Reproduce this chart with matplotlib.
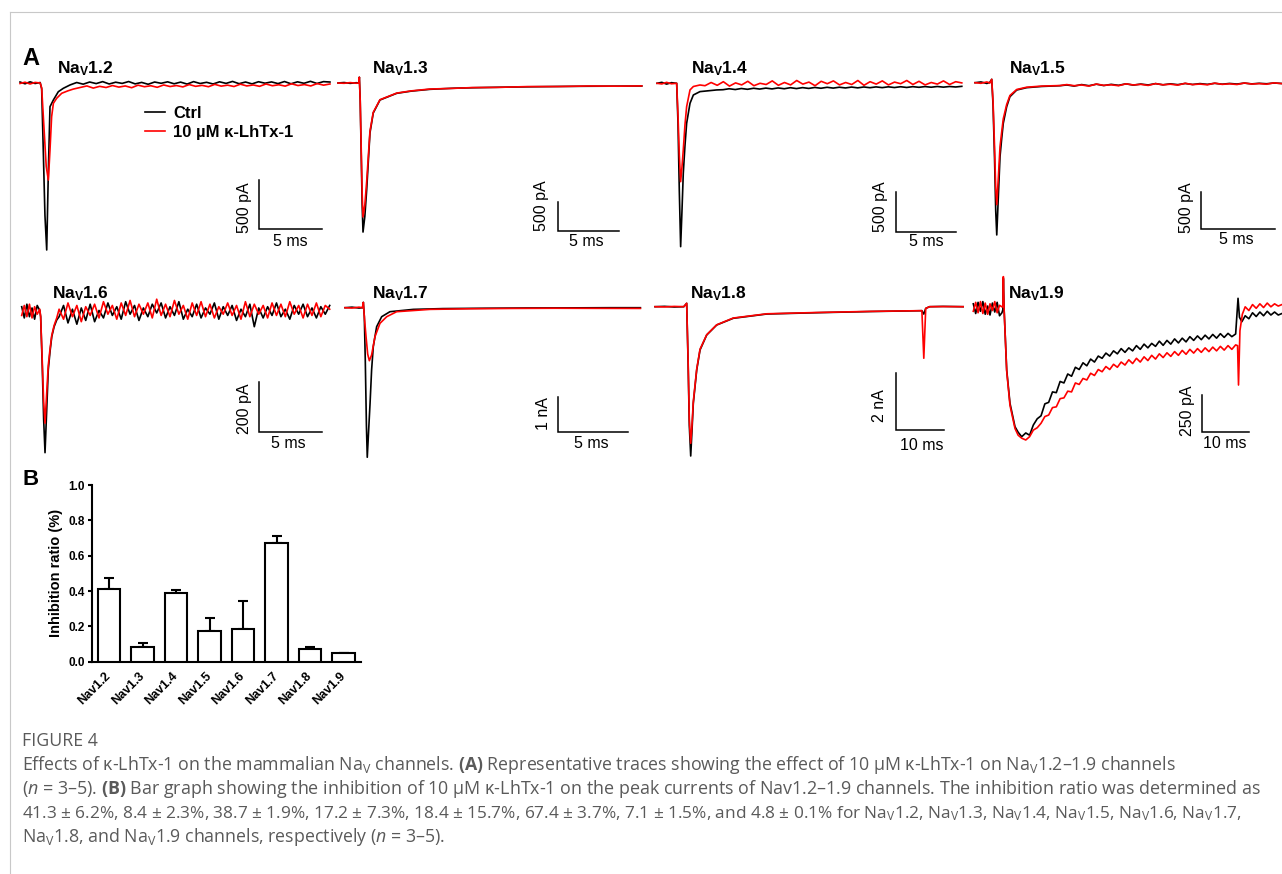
import numpy as np
import matplotlib
matplotlib.use('Agg')
import matplotlib.pyplot as plt
from matplotlib.lines import Line2D

plt.rcParams['font.family'] = ['Liberation Sans', 'DejaVu Sans']
plt.rcParams['mathtext.fontset'] = 'custom'
plt.rcParams['mathtext.rm'] = 'Open Sans'
plt.rcParams['mathtext.it'] = 'Open Sans:italic'
plt.rcParams['mathtext.bf'] = 'Open Sans:bold'
plt.rcParams['mathtext.sf'] = 'Liberation Sans:bold'

W, H = 1282, 874
RED = '#ff0000'

# ── trace data (time in ms, current in pA) ────────────────────────────
# a 3-tuple (t_start, t_end, values) is an evenly sampled noisy stretch

# Nav1.2
t12_c = [0, 0.4, 0.8, 1.2, 1.6, 1.72, 1.85, 1.98, 2.12, 2.25, 2.38, 2.65, 3.04, 3.44, 3.97]
i12_c = [10, -8, 12, -5, 5, -60, -700, -1350, -1704, -900, -242, -173, -89, -54, -20]
tail12_c = [5, -12, 10, -6, 14, -10, 8, -4, 15, -9, 6, -13, 10, -3, 12, -8, 9, -11, 14, -5,
            7, -10, 12, -4, 16, -7, 10, -9, 13, -2, 11, -6, 15, -8, 12, -3, 17, -5, 14, 10]
t12_t = [0, 0.4, 0.8, 1.2, 1.6, 1.72, 1.9, 2.08, 2.25, 2.38, 2.51, 2.65, 2.91, 3.31, 3.8, 4.23]
i12_t = [-5, 8, -10, 6, 0, -50, -450, -850, -990, -684, -344, -207, -156, -105, -80, -62]
tail12_t = [-45, -30, -52, -34, -46, -26, -42, -30, -48, -22, -38, -28, -44, -20, -36, -26,
            -40, -16, -34, -24, -38, -14, -32, -22, -36, -12, -30, -20, -34, -10, -28, -18,
            -32, -8, -26, -16, -30, -6, -22, -10]

# Nav1.3
t13 = [0, 0.5, 1.0, 1.5, 1.7, 1.75, 1.82, 1.9, 1.98, 2.05, 2.2, 2.35, 2.62, 2.89, 3.44,
       4.81, 6.0, 7.54, 9.5, 11.0, 13.0, 15.5, 18.0, 20.5, 23.0, 24.9]
i13_c = [0, 8, -6, 5, 0, 100, -300, -1200, -2100, -2570, -2300, -1845, -862, -517, -293,
         -178, -140, -109, -90, -82, -74, -66, -60, -56, -54, -52]
i13_t = [0, -5, 7, -4, 0, 100, -300, -1100, -1900, -2310, -2100, -1700, -830, -505, -288,
         -174, -136, -104, -92, -79, -76, -62, -61, -52, -55, -50]

# Nav1.4
t14_c = [0, 0.4, 0.8, 1.2, 1.64, 1.75, 1.86, 1.97, 2.08, 2.19, 2.33, 2.47, 2.75, 3.03, 3.58, 4.97]
i14_c = [0, 12, -10, 8, 0, -500, -1350, -2042, -1600, -1125, -780, -500, -250, -146, -104, -83]
tail14_c = [-80, -68, -78, -65, -75, -62, -72, -60, -70, -58, -68, -55, -66, -54, -64, -52,
            -62, -50, -60, -49, -58, -47, -57, -46, -55, -45, -54, -44, -53, -43, -52, -42,
            -50, -41, -49, -40, -48, -40, -46, -38]
t14_t = [0, 0.4, 0.8, 1.2, 1.64, 1.75, 1.86, 1.97, 2.08, 2.19, 2.33, 2.47, 2.75, 3.03, 3.58]
i14_t = [0, -8, 12, -6, 0, -400, -900, -1230, -1050, -834, -520, -292, -83, -40, -21]
tail14_t = [-30, 10, -25, 20, -35, 5, -20, 25, -30, 0, -15, 30, -25, 10, -20, 35, -10, 15,
            -30, 25, -5, 30, -20, 10, -15, 35, -25, 20, -10, 30, -20, 15, -5, 35, -15, 25,
            -20, 10, -10, 30, -15, 20, 5]

# Nav1.5
t15 = [0, 0.4, 0.8, 1.0, 1.13, 1.22, 1.32, 1.40, 1.47, 1.58, 1.69, 1.80, 1.91, 2.14, 2.36,
       2.82, 3.49, 4.5, 5.74]
i15_c = [0, 10, -10, 5, 45, -300, -1000, -1700, -2022, -1500, -983, -750, -540, -319, -186,
         -97, -66, -50, -40]
i15_t = [0, -8, 10, -5, 45, -250, -850, -1400, -1620, -1250, -850, -660, -480, -290, -170,
         -90, -60, -45, -38]
tail15_c = [-30, -45, -25, -40, -20, -38, -22, -35, -15, -32, -18, -30, -12, -28, -15, -26,
            -10, -24, -12, -22, -8, -20, -10, -18, -5, -16, -8, -14, -4, -10]
tail15_t = [-25, -40, -30, -45, -18, -35, -28, -40, -15, -30, -22, -36, -12, -28, -20, -32,
            -8, -25, -18, -28, -6, -22, -15, -24, -4, -18, -12, -20, -2, -12]

# Nav1.6
pre16_c = [20, -25, 30, -20, 15, -30, 25, 5]
pre16_t = [-15, 25, -20, 30, -25, 20, -10, 10]
t16 = [1.52, 1.65, 1.76, 1.87, 2.0, 2.13, 2.27, 2.41, 2.6, 2.81]
i16_c = [-20, -220, -430, -564, -400, -233, -160, -100, -60, -33]
i16_t = [-20, -200, -360, -446, -330, -215, -150, -95, -55, -25]
tail16_c = [-20, 25, -45, 10, -50, 15, -35, 30, -40, 5, -25, 35, -15, 20, -30, 40, -10, 25,
            -35, 15, -20, 30, -5, 35, -25, 20, -15, 40, -30, 10, -20, 30, -25, 15, -10, 35,
            -30, 20, -15, 25, -35, 10, -20, 30, -60, 15, -25, 20, -15, 35, -20, 10, -30, 25,
            -10, 30, -20, 15, -25, 20, -10, 25]
tail16_t = [10, -30, 35, -20, 25, -40, 20, -15, 30, -25, 40, -10, 25, -30, 35, -15, 45, -20,
            30, -10, 35, -25, 50, -15, 30, -20, 45, -10, 25, -30, 35, -15, 40, -20, 30, -25,
            20, -10, 35, -15, 25, -30, 40, -20, 30, -10, 25, -25, 35, -15, 30, -20, 40, -10,
            25, -25, 30, -15, 35, -20, 25, 10]

# Nav1.7
t17_c = [0, 0.5, 1.0, 1.25, 1.31, 1.38, 1.45, 1.53, 1.59, 1.68, 1.79, 1.90, 2.02, 2.26, 2.62,
         3.21, 4.88, 7.0, 10.0, 13.0, 16.0, 19.0, 21.1]
i17_c = [0, 15, -10, 0, 150, -250, -1500, -3300, -4190, -3500, -2680, -1745, -1092, -532, -252,
         -112, -47, -25, -15, -8, -5, 0, 0]
t17_t = [0, 0.5, 1.0, 1.25, 1.31, 1.38, 1.5, 1.62, 1.74, 1.90, 2.14, 2.5, 2.98, 3.69, 6.07,
         9.0, 12.0, 15.0, 18.0, 21.1]
i17_t = [0, -10, 15, 0, 150, -250, -800, -1300, -1485, -1325, -812, -437, -252, -112, -47,
         -30, -20, -15, -18, -20]

# Nav1.8
t18 = [0, 2, 4, 6, 6.6, 6.9, 7.15, 7.44, 7.7, 7.98, 8.69, 9.38, 10.77, 12.85, 16.3, 23.3,
       33.7, 45.0, 55.6, 56.0, 56.4, 57.2, 60.0, 64.2]
i18_c = [0, 12, -10, 0, 120, -2000, -4200, -5270, -4400, -3410, -2234, -1528, -999, -646, -409,
         -258, -212, -170, -141, -260, -60, 0, 10, 0]
i18_t = [0, -8, 10, 0, 120, -1900, -4000, -4822, -4200, -3350, -2200, -1500, -990, -640, -400,
         -250, -205, -165, -140, -1820, -60, 0, 5, 0]

# Nav1.9
pre19_c = [30, -35, 40, -20, 45, -40, 15, -45, 35, -25, 40, -50, -30]
pre19_t = [-20, 40, -30, 45, -35, 35, -40, 30, -15, 45, -30, 20, 10]
t19_c = [6.2, 6.3, 6.45, 7.0, 7.69, 8.74, 9.4, 10.15, 11.0, 11.8, 12.58]
i19_c = [-10, 200, 0, -413, -636, -793, -830, -860, -835, -850, -782]
t19_t = [6.2, 6.3, 6.45, 7.0, 7.69, 8.74, 9.4, 10.15, 11.0, 11.8, 12.58]
i19_t = [10, 212, 0, -420, -650, -805, -850, -870, -882, -860, -816]
rec19_c = [-740, -720, -640, -630, -560, -565, -490, -500, -440, -455, -395, -410, -365, -385,
           -340, -360, -320, -335, -300, -320, -285, -305, -270, -295, -265, -285, -250, -275,
           -240, -265, -235, -255, -220, -248, -215, -240, -205, -232, -200, -225, -190, -215,
           -185, -210, -180, -205, -175, -200, -170, -195, -168, -190, -172]
rec19_t = [-800, -770, -725, -715, -665, -660, -605, -600, -555, -560, -500, -510, -470, -480,
           -435, -450, -410, -425, -390, -410, -375, -395, -360, -380, -345, -370, -335, -360,
           -325, -350, -315, -340, -305, -330, -298, -322, -290, -315, -282, -308, -275, -300,
           -270, -295, -265, -290, -260, -285, -255, -280, -250, -275, -245]
t19s_c = [55.5, 55.8, 56.3]
i19s_c = [67, -60, -90]
t19s_t = [55.4, 55.6, 55.9, 56.4]
i19s_t = [-250, -514, -150, -40]
post19_c = [-50, -70, -30, -55, -25, -50, -20, -45, -25, -45, -35]
post19_t = [10, -15, 25, 0, 30, 5, 35, 10, 30, 15, 25]

# ── panel B data ──────────────────────────────────────────────────────
channels = ['Nav1.2', 'Nav1.3', 'Nav1.4', 'Nav1.5', 'Nav1.6', 'Nav1.7', 'Nav1.8', 'Nav1.9']
inhibition = [0.413, 0.084, 0.387, 0.172, 0.184, 0.674, 0.071, 0.048]
inhibition_err = [0.062, 0.023, 0.019, 0.073, 0.157, 0.037, 0.015, 0.001]


def build(*parts):
    t, y = [], []
    for p in parts:
        if len(p) == 3:
            t += list(np.linspace(p[0], p[1], len(p[2])))
            y += list(p[2])
        else:
            t += list(p[0])
            y += list(p[1])
    return np.array(t), np.array(y)


TRACES = {
    '1.2': (build((t12_c, i12_c), (4.5, 24.6, tail12_c)),
            build((t12_t, i12_t), (4.8, 24.6, tail12_t))),
    '1.3': (build((t13, i13_c)), build((t13, i13_t))),
    '1.4': (build((t14_c, i14_c), (5.5, 25.4, tail14_c)),
            build((t14_t, i14_t), (4.0, 25.4, tail14_t))),
    '1.5': (build((t15, i15_c), (6.2, 20.7, tail15_c)),
            build((t15, i15_t), (6.2, 20.7, tail15_t))),
    '1.6': (build((0, 1.45, pre16_c), (t16, i16_c), (3.0, 24.7, tail16_c)),
            build((0, 1.45, pre16_t), (t16, i16_t), (3.0, 24.7, tail16_t))),
    '1.7': (build((t17_c, i17_c)), build((t17_t, i17_t))),
    '1.8': (build((t18, i18_c)), build((t18, i18_t))),
    '1.9': (build((0, 6.0, pre19_c), (t19_c, i19_c), (13.4, 55.0, rec19_c),
                  (t19s_c, i19s_c), (57.0, 64.7, post19_c)),
            build((0, 6.0, pre19_t), (t19_t, i19_t), (13.4, 55.0, rec19_t),
                  (t19s_t, i19s_t), (57.0, 64.7, post19_t))),
}

# ── layout (pixels) ──────────────────────────────────────────────────
# x0/y0: pixel of t=0 and I=0; mspx/papx: pixels per ms / per pA
LAYOUT = {
    '1.2': dict(x0=20, y0=83, mspx=12.6, papx=0.098, cell=(12, 336, 55, 265),
                bar=(259, 229), size=(5, 500), lbl=('500 pA', '5 ms'),
                amp_xy=(245, 208), dur_xy=(290, 241.7), title=(57, 73)),
    '1.3': dict(x0=338, y0=83, mspx=12.2, papx=0.058, cell=(336, 652, 55, 265),
                bar=(558, 231), size=(5, 500), lbl=('500 pA', '5 ms'),
                amp_xy=(541.7, 205.7), dur_xy=(586.7, 241.7), title=(371.7, 73)),
    '1.4': dict(x0=657, y0=83.3, mspx=12, papx=0.08, cell=(652, 966, 55, 265),
                bar=(895.7, 231.7), size=(5, 500), lbl=('500 pA', '5 ms'),
                amp_xy=(880, 206.7), dur_xy=(926, 241.7), title=(690.7, 73)),
    '1.5': dict(x0=975, y0=82.7, mspx=14.8, papx=0.0753, cell=(966, 1282, 55, 265),
                bar=(1201, 229.3), size=(5, 500), lbl=('500 pA', '5 ms'),
                amp_xy=(1186, 207.3), dur_xy=(1236, 240), title=(1009, 73)),
    '1.6': dict(x0=21.7, y0=311.7, mspx=12.47, papx=0.25, cell=(12, 336, 268, 470),
                bar=(259.3, 431.7), size=(5, 200), lbl=('200 pA', '5 ms'),
                amp_xy=(245, 408.3), dur_xy=(288.3, 443.3), title=(51.7, 298)),
    '1.7': dict(x0=345, y0=307.7, mspx=14, papx=0.0357, cell=(336, 652, 268, 470),
                bar=(557.7, 432.3), size=(5, 1000), lbl=('1 nA', '5 ms'),
                amp_xy=(543.3, 414), dur_xy=(591.7, 443.3), title=(371.7, 298)),
    '1.8': dict(x0=655, y0=306.7, mspx=4.8, papx=0.02833, cell=(652, 966, 268, 470),
                bar=(896, 430), size=(10, 2000), lbl=('2 nA', '10 ms'),
                amp_xy=(880, 405.7), dur_xy=(921.7, 445), title=(690, 298)),
    '1.9': dict(x0=973.3, y0=308.3, mspx=4.77, papx=0.1493, cell=(966, 1282, 268, 470),
                bar=(1201.7, 432.3), size=(10, 250), lbl=('250 pA', '10 ms'),
                amp_xy=(1187.3, 410.7), dur_xy=(1225, 443.3), title=(1007.7, 298)),
}


def fx(x):
    return x / W


def fy(y):
    return 1 - y / H


fig = plt.figure(figsize=(W / 100, H / 100), dpi=100)

# frame lines of the page
fig.add_artist(Line2D([fx(10), 1], [fy(12), fy(12)], color='#c8c8c8', lw=0.8))
fig.add_artist(Line2D([fx(10), fx(10)], [fy(12), 0], color='#c8c8c8', lw=0.8))

# ── panel A: traces ──────────────────────────────────────────────────
for name, L in LAYOUT.items():
    cx0, cx1, cy0, cy1 = L['cell']
    ax = fig.add_axes([fx(cx0), fy(cy1), (cx1 - cx0) / W, (cy1 - cy0) / H])
    ax.set_xlim((cx0 - L['x0']) / L['mspx'], (cx1 - L['x0']) / L['mspx'])
    ax.set_ylim((L['y0'] - cy1) / L['papx'], (L['y0'] - cy0) / L['papx'])
    ax.axis('off')
    (tc, ic), (tt, it) = TRACES[name]
    lc, = ax.plot(tc, ic, color='black', lw=1.2, clip_on=False)
    lt, = ax.plot(tt, it, color=RED, lw=1.2, clip_on=False)

    # scale bar
    sb_t = (L['bar'][0] - L['x0']) / L['mspx']
    sb_i = (L['y0'] - L['bar'][1]) / L['papx']
    dur, amp = L['size']
    ax.plot([sb_t, sb_t, sb_t + dur], [sb_i + amp, sb_i, sb_i], color='black',
            lw=1.1, solid_joinstyle='miter', clip_on=False)
    fig.text(fx(L['amp_xy'][0]), fy(L['amp_xy'][1]), L['lbl'][0], rotation=90,
             ha='center', va='center', fontsize=11.5)
    fig.text(fx(L['dur_xy'][0]), fy(L['dur_xy'][1]), L['lbl'][1],
             ha='center', va='center', fontsize=11.5)

    fig.text(fx(L['title'][0]), fy(L['title'][1]), r'Na$_\mathsf{V}$' + name,
             fontsize=12.5, fontweight='bold', va='baseline')

    if name == '1.2':
        ax.legend([lc, lt], ['Ctrl', '10 µM κ-LhTx-1'], loc='upper left',
                  bbox_to_anchor=(fx(145), fy(106)), bbox_transform=fig.transFigure,
                  frameon=False, handlelength=1.2, handletextpad=0.5,
                  labelspacing=0.25, borderpad=0, borderaxespad=0,
                  prop={'weight': 'bold', 'size': 12})

fig.text(fx(22), fy(65), 'A', fontsize=17, fontweight='bold', va='baseline')
fig.text(fx(22), fy(485), 'B', fontsize=16, fontweight='bold', va='baseline')

# ── panel B: bar graph ───────────────────────────────────────────────
axb = fig.add_axes([fx(91.7), fy(661.7), (361 - 91.7) / W, (661.7 - 485) / H])
xpos = np.arange(len(channels))
axb.bar(xpos, inhibition, width=0.67, color='white', edgecolor='black', lw=1.5, zorder=3)
axb.errorbar(xpos, inhibition, yerr=[np.zeros(len(channels)), inhibition_err],
             fmt='none', ecolor='black', elinewidth=1.5, capsize=3.6, capthick=1.5, zorder=2)
axb.set_xlim(-0.52, 7.52)
axb.set_ylim(0, 1.0)
axb.set_yticks([0.0, 0.2, 0.4, 0.6, 0.8, 1.0])
axb.set_yticklabels(['0.0', '0.2', '0.4', '0.6', '0.8', '1.0'], fontsize=8.5, fontweight='bold')
axb.set_xticks(xpos)
axb.set_xticklabels(channels, rotation=45, ha='right', va='center', rotation_mode='anchor',
                    fontsize=9, fontweight='bold')
axb.tick_params(axis='x', length=0, pad=9)
axb.tick_params(axis='y', length=3, width=1.5, pad=2)
for s in ['top', 'right']:
    axb.spines[s].set_visible(False)
for s in ['left', 'bottom']:
    axb.spines[s].set_linewidth(1.5)
axb.set_ylabel('Inhibition ratio (%)', fontsize=10.5, fontweight='bold', labelpad=4)

# ── caption ──────────────────────────────────────────────────────────
cap_kw = dict(family=['Open Sans', 'DejaVu Sans'], color='#5a5a5a', va='baseline')
NAV = r'Na$_\mathrm{V}$'
caption = [
    'Effects of κ-LhTx-1 on the mammalian ' + NAV + r' channels. $\mathbf{(A)}$ Representative '
    'traces showing the effect of 10 μM κ-LhTx-1 on ' + NAV + '1.2–1.9 channels',
    r'($n$ = 3–5). $\mathbf{(B)}$ Bar graph showing the inhibition of 10 μM κ-LhTx-1 on the '
    'peak currents of Nav1.2–1.9 channels. The inhibition ratio was determined as',
    '41.3 ± 6.2%, 8.4 ± 2.3%, 38.7 ± 1.9%, 17.2 ± 7.3%, 18.4 ± 15.7%, 67.4 ± 3.7%, 7.1 ± 1.5%, '
    'and 4.8 ± 0.1% for ' + ', '.join(NAV + '1.%d' % k for k in range(2, 8)) + ',',
    NAV + '1.8, and ' + NAV + r'1.9 channels, respectively ($n$ = 3–5).',
]
caption_size = [12.8, 12.9, 12.4, 12.8]
fig.text(fx(22), fy(746), 'FIGURE 4', fontsize=12.8, **cap_kw)
for k, line in enumerate(caption):
    fig.text(fx(22), fy(770 + 24 * k), line, fontsize=caption_size[k], **cap_kw)

fig.savefig('out.png', dpi=100)
